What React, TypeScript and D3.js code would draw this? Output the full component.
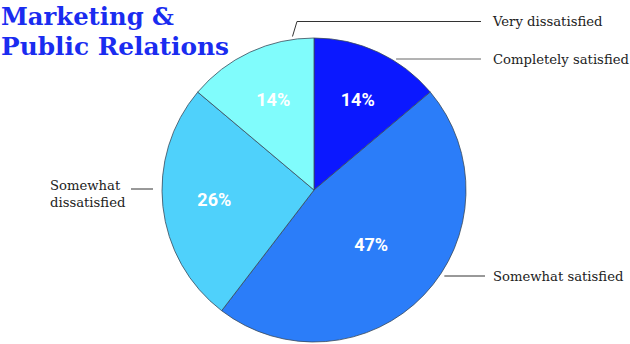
import React, { useRef, useEffect } from "react";
import * as d3 from "d3";

const categories = ["Completely satisfied", "Somewhat satisfied", "Somewhat dissatisfied", "Very dissatisfied"];
const values = [14, 47, 26, 14];
const percentLabels = ["14%", "47%", "26%", "14%"];
const colors = ["#0b18ff", "#2b7df9", "#4fd1fb", "#80fcfc"];
const titleLines = ["Marketing &", "Public Relations"];

export default function App() {
  const ref = useRef<SVGSVGElement>(null);
  useEffect(() => {
    const svg = d3.select(ref.current);
    svg.selectAll("*").remove();
    const cx = 314, cy = 190, r = 152;
    const g = svg.append("g").attr("transform", `translate(${cx},${cy})`);
    const pie = d3.pie<number>().sort(null).value((d) => d);
    const arcs = pie(values);
    const arc = d3.arc<d3.PieArcDatum<number>>().innerRadius(0).outerRadius(r);
    g.selectAll("path").data(arcs).enter().append("path")
      .attr("d", arc as any)
      .attr("fill", (_, i) => colors[i])
      .attr("stroke", "#3a4a5a")
      .attr("stroke-width", 0.8);

    const labelArc = d3.arc<d3.PieArcDatum<number>>().innerRadius(r * 0.62).outerRadius(r * 0.62);
    const offsets = [[4, -5.5], [-11, -11], [-6, -1], [-1, -5.5]];
    g.selectAll("text.pct").data(arcs).enter().append("text")
      .attr("class", "pct")
      .attr("x", (d, i) => labelArc.centroid(d)[0] + offsets[i][0])
      .attr("y", (d, i) => labelArc.centroid(d)[1] + offsets[i][1])
      .attr("text-anchor", "middle")
      .attr("dy", "0.36em")
      .attr("fill", "#ffffff")
      .attr("font-family", "Roboto, sans-serif")
      .attr("font-weight", "bold")
      .attr("font-size", 18)
      .text((_, i) => percentLabels[i]);

    // title
    titleLines.forEach((t, i) => {
      svg.append("text").attr("x", 1).attr("y", 25 + i * 30)
        .attr("fill", "#1a2cf0")
        .attr("font-family", "'DejaVu Serif', serif")
        .attr("font-weight", "bold")
        .attr("font-size", 24.5)
        .attr("textLength", i === 0 ? 173 : 228)
        .attr("lengthAdjust", "spacingAndGlyphs")
        .text(t);
    });

    const lineColor = "#333";
    const labelFont = "'DejaVu Serif', serif";
    const arcX = (y: number) => cx + Math.sqrt(r * r - (y - cy) * (y - cy));
    // Very dissatisfied
    const a3 = arcs[3].startAngle + (arcs[3].endAngle - arcs[3].startAngle) * 0.84;
    const p3 = [cx + (r + 3) * Math.sin(a3), cy - (r + 3) * Math.cos(a3)];
    svg.append("polyline").attr("points", `${p3[0]},${p3[1]} ${p3[0] + 4.5},21.5 481,21.5`)
      .attr("fill", "none").attr("stroke", lineColor).attr("stroke-width", 1);
    svg.append("text").attr("x", 493).attr("y", 25.5).text(categories[3]);
    // Completely satisfied
    svg.append("line").attr("x1", arcX(59) + 5).attr("y1", 59).attr("x2", 481).attr("y2", 59)
      .attr("stroke", "#666").attr("stroke-width", 1);
    svg.append("text").attr("x", 493).attr("y", 63.5).text(categories[0]);
    // Somewhat satisfied
    svg.append("line").attr("x1", arcX(276) + 5).attr("y1", 276).attr("x2", 485).attr("y2", 276)
      .attr("stroke", lineColor).attr("stroke-width", 1);
    svg.append("text").attr("x", 493).attr("y", 280.5).text(categories[1]);
    // Somewhat dissatisfied
    svg.append("line").attr("x1", 131).attr("y1", 189).attr("x2", 153).attr("y2", 189)
      .attr("stroke", lineColor).attr("stroke-width", 1);
    const t2 = svg.append("text").attr("x", 50).attr("y", 189.5);
    t2.append("tspan").attr("x", 50).attr("dy", 0).text("Somewhat");
    t2.append("tspan").attr("x", 50).attr("dy", 17).text("dissatisfied");

    svg.selectAll("text:not(.pct)").filter(function () { return !d3.select(this).attr("font-family"); })
      .attr("font-family", labelFont).attr("font-size", 13.2).attr("fill", "#222");
  }, []);
  return (
    <div style={{ position: "absolute", left: 0, top: 0, width: 630, height: 344, background: "#fff" }}>
      <svg ref={ref} width={630} height={344} />
    </div>
  );
}
